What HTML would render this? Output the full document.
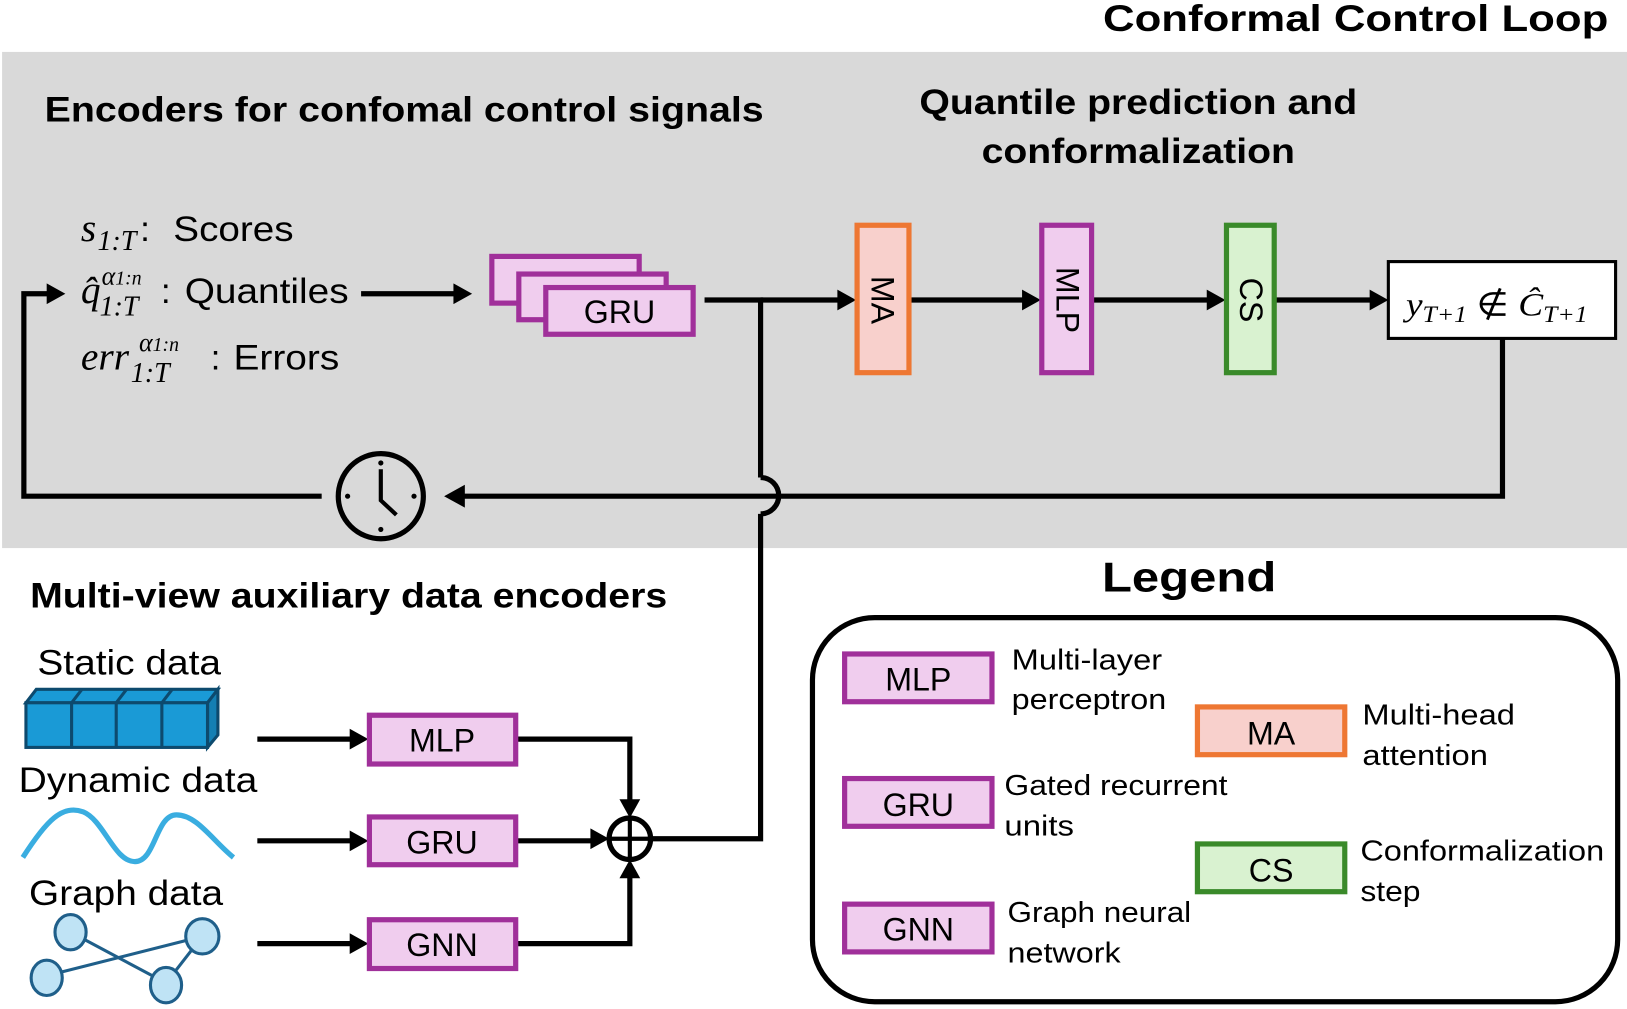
<!DOCTYPE html>
<html><head><meta charset="utf-8"><style>
html,body{margin:0;padding:0;background:#fff;}
svg{display:block;}
text{font-family:"Liberation Sans",sans-serif;}
.m{font-family:"Liberation Serif",serif;font-style:italic;}
.b{font-weight:bold;}
</style></head><body>
<svg width="1627" height="1009" viewBox="0 0 1568 972" preserveAspectRatio="none" xmlns="http://www.w3.org/2000/svg">
<text x="1063" y="30" class="b" font-size="36" textLength="487" lengthAdjust="spacingAndGlyphs">Conformal Control Loop</text>
<rect x="2" y="50" width="1566" height="478" fill="#d9d9d9"/>
<text x="43" y="117" class="b" font-size="34" textLength="693" lengthAdjust="spacingAndGlyphs">Encoders for confomal control signals</text>
<text x="886" y="110" class="b" font-size="34" textLength="422" lengthAdjust="spacingAndGlyphs">Quantile prediction and</text>
<text x="946" y="157" class="b" font-size="34" textLength="302" lengthAdjust="spacingAndGlyphs">conformalization</text>

<!-- math labels -->
<text x="78" y="232" font-size="38" class="m">s</text>
<text x="94" y="241" font-size="27" class="m">1:T</text>
<text x="135" y="232" font-size="34">:</text>
<text x="167" y="232" font-size="34" textLength="116" lengthAdjust="spacingAndGlyphs">Scores</text>

<text x="78" y="292" font-size="38" class="m">q̂</text>
<text x="98" y="274" font-size="25" class="m">α<tspan font-size="19">1:n</tspan></text>
<text x="96" y="304" font-size="27" class="m">1:T</text>
<text x="155" y="292" font-size="34">:</text>
<text x="178" y="292" font-size="34" textLength="158" lengthAdjust="spacingAndGlyphs">Quantiles</text>

<text x="78" y="356" font-size="38" class="m">err</text>
<text x="134" y="338" font-size="25" class="m">α<tspan font-size="19">1:n</tspan></text>
<text x="126" y="368" font-size="27" class="m">1:T</text>
<text x="203" y="356" font-size="34">:</text>
<text x="225" y="356" font-size="34" textLength="102" lengthAdjust="spacingAndGlyphs">Errors</text>

<g stroke="#000" stroke-width="5" fill="none">
<line x1="348" y1="283" x2="440" y2="283"/>
<polyline points="679,289 733,289 733,460"/>
<path d="M733,460 A17,17 0 0 1 733,495"/>
<polyline points="733,495 733,808 628,808"/>
<line x1="733" y1="289" x2="808" y2="289"/>
<line x1="877" y1="289" x2="988" y2="289"/>
<line x1="1053" y1="289" x2="1166" y2="289"/>
<line x1="1229" y1="289" x2="1322" y2="289"/>
<polyline points="1448,326 1448,478 445,478"/>
<polyline points="310,478 23,478 23,283 46,283"/>
<circle cx="367" cy="478" r="41"/>
<polyline points="367,452 367,482 382,496" stroke-width="4"/>
<line x1="248" y1="712" x2="340" y2="712"/>
<line x1="248" y1="810" x2="340" y2="810"/>
<line x1="248" y1="909" x2="340" y2="909"/>
<polyline points="498,712 607,712 607,773"/>
<line x1="498" y1="810" x2="570" y2="810"/>
<polyline points="498,909 607,909 607,845"/>
<circle cx="607" cy="808" r="20"/>
<line x1="587" y1="808" x2="627" y2="808" stroke-width="4"/>
<line x1="607" y1="788" x2="607" y2="828" stroke-width="4"/>
</g>
<g fill="#000">
<polygon points="455,283 437,273 437,293"/>
<polygon points="825,289 807,279 807,299"/>
<polygon points="1003,289 985,279 985,299"/>
<polygon points="1181,289 1163,279 1163,299"/>
<polygon points="1338,289 1320,279 1320,299"/>
<polygon points="428,478 448,467 448,489"/>
<polygon points="63,283 45,273 45,293"/>
<polygon points="355,712 337,702 337,722"/>
<polygon points="355,810 337,800 337,820"/>
<polygon points="355,909 337,899 337,919"/>
<polygon points="587,808 569,798 569,818"/>
<polygon points="607,788 597,770 617,770"/>
<polygon points="607,828 597,846 617,846"/>
<circle cx="367" cy="446" r="2.5"/><circle cx="367" cy="510" r="2.5"/><circle cx="335" cy="478" r="2.5"/><circle cx="399" cy="478" r="2.5"/>
</g>

<g fill="#f0cdee" stroke="#a0309a" stroke-width="5">
<rect x="474" y="247" width="142" height="45"/>
<rect x="500" y="264" width="142" height="44"/>
<rect x="526" y="277" width="142" height="45"/>
</g>
<text x="597" y="311" text-anchor="middle" font-size="31">GRU</text>

<rect x="826" y="217" width="50" height="142" fill="#f8d0cc" stroke="#ee7733" stroke-width="5"/>
<rect x="1004" y="217" width="48" height="142" fill="#f0cdee" stroke="#a0309a" stroke-width="5"/>
<rect x="1182" y="217" width="46" height="142" fill="#d9f2d0" stroke="#3a8a2a" stroke-width="5"/>
<text transform="translate(840,289) rotate(90)" text-anchor="middle" font-size="31">MA</text>
<text transform="translate(1018,289) rotate(90)" text-anchor="middle" font-size="31">MLP</text>
<text transform="translate(1195,289) rotate(90)" text-anchor="middle" font-size="31">CS</text>
<rect x="1338" y="252" width="219" height="74" fill="#fff" stroke="#000" stroke-width="3"/>
<text x="1355" y="304" font-size="32" class="m" textLength="175" lengthAdjust="spacingAndGlyphs">y<tspan font-size="22" dy="6">T+1</tspan><tspan font-style="normal" dy="-6"> ∉ </tspan>Ĉ<tspan font-size="22" dy="6">T+1</tspan></text>

<text x="29" y="585" class="b" font-size="34" textLength="614" lengthAdjust="spacingAndGlyphs">Multi-view auxiliary data encoders</text>
<text x="36" y="650" font-size="34" textLength="177" lengthAdjust="spacingAndGlyphs">Static data</text>
<g stroke="#0d4a6e" stroke-width="3" fill="#1a9ad6">
<polygon points="25,677 35,664 210,664 200,677"/>
<polygon points="200,677 210,664 210,708 200,720" fill="#147fb3"/>
<rect x="25" y="677" width="175" height="43"/>
<line x1="69" y1="677" x2="69" y2="720"/><line x1="112" y1="677" x2="112" y2="720"/><line x1="156" y1="677" x2="156" y2="720"/>
<line x1="69" y1="677" x2="79" y2="664"/><line x1="112" y1="677" x2="122" y2="664"/><line x1="156" y1="677" x2="166" y2="664"/>
</g>
<text x="18" y="763" font-size="34" textLength="230" lengthAdjust="spacingAndGlyphs">Dynamic data</text>
<path d="M22,826 C45,790 60,775 80,782 C100,790 110,830 130,830 C150,830 150,785 170,785 C190,785 205,810 225,826" fill="none" stroke="#3aade0" stroke-width="5"/>
<text x="28" y="872" font-size="34" textLength="187" lengthAdjust="spacingAndGlyphs">Graph data</text>
<g stroke="#1f5f8a" stroke-width="3">
<line x1="68" y1="898" x2="160" y2="947"/><line x1="45" y1="940" x2="195" y2="902"/><line x1="195" y1="902" x2="160" y2="947"/>
<g fill="#bfe3f5"><ellipse cx="68" cy="898" rx="15" ry="17"/><ellipse cx="195" cy="902" rx="16" ry="17"/><ellipse cx="45" cy="942" rx="15" ry="17"/><ellipse cx="160" cy="949" rx="15" ry="17"/></g>
</g>
<g fill="#f0cdee" stroke="#a0309a" stroke-width="5">
<rect x="356" y="689" width="141" height="47"/>
<rect x="356" y="787" width="141" height="46"/>
<rect x="356" y="886" width="141" height="47"/>
</g>
<text x="426" y="724" text-anchor="middle" font-size="31">MLP</text>
<text x="426" y="822" text-anchor="middle" font-size="31">GRU</text>
<text x="426" y="921" text-anchor="middle" font-size="31">GNN</text>

<text x="1062" y="570" class="b" font-size="40" textLength="168" lengthAdjust="spacingAndGlyphs">Legend</text>
<rect x="783" y="595" width="776" height="370" rx="60" fill="none" stroke="#000" stroke-width="5"/>
<g stroke-width="5">
<rect x="814" y="630" width="142" height="46" fill="#f0cdee" stroke="#a0309a"/>
<rect x="1154" y="681" width="142" height="46" fill="#f8d0cc" stroke="#ee7733"/>
<rect x="814" y="750" width="142" height="46" fill="#f0cdee" stroke="#a0309a"/>
<rect x="1154" y="813" width="142" height="46" fill="#d9f2d0" stroke="#3a8a2a"/>
<rect x="814" y="871" width="142" height="46" fill="#f0cdee" stroke="#a0309a"/>
</g>
<g font-size="31" text-anchor="middle">
<text x="885" y="665">MLP</text><text x="1225" y="717">MA</text><text x="885" y="786">GRU</text><text x="1225" y="849">CS</text><text x="885" y="906">GNN</text>
</g>
<g font-size="28">
<text x="975" y="645" textLength="145" lengthAdjust="spacingAndGlyphs">Multi-layer</text><text x="975" y="683" textLength="149" lengthAdjust="spacingAndGlyphs">perceptron</text>
<text x="1313" y="698" textLength="147" lengthAdjust="spacingAndGlyphs">Multi-head</text><text x="1313" y="737" textLength="121" lengthAdjust="spacingAndGlyphs">attention</text>
<text x="968" y="766" textLength="215" lengthAdjust="spacingAndGlyphs">Gated recurrent</text><text x="968" y="805" textLength="67" lengthAdjust="spacingAndGlyphs">units</text>
<text x="1311" y="829" textLength="235" lengthAdjust="spacingAndGlyphs">Conformalization</text><text x="1311" y="868" textLength="58" lengthAdjust="spacingAndGlyphs">step</text>
<text x="971" y="888" textLength="177" lengthAdjust="spacingAndGlyphs">Graph neural</text><text x="971" y="927" textLength="109" lengthAdjust="spacingAndGlyphs">network</text>
</g>
</svg>
</body></html>
